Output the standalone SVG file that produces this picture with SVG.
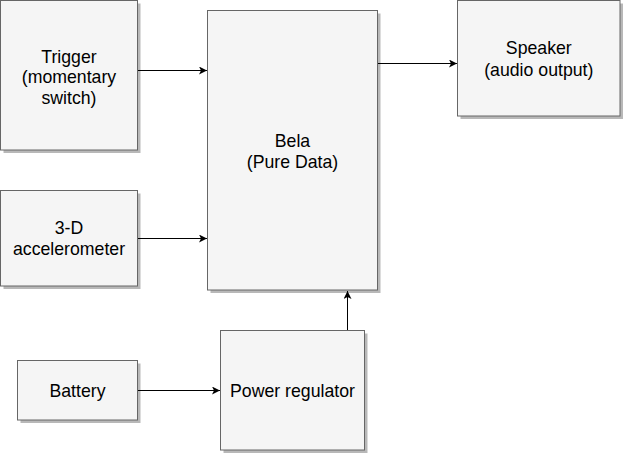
<svg xmlns="http://www.w3.org/2000/svg" width="623" height="454" viewBox="0 0 623 454">
<style>
.box{fill:#f5f5f5;stroke:#666666;stroke-width:1}
.sh{fill:#000;opacity:0.28}
.t{font-family:"Liberation Sans",Arial,sans-serif;font-size:17.7px;fill:#000;text-anchor:middle}
.c{stroke:#000;stroke-width:1;fill:none}
</style>
<defs>
<marker id="ar" markerUnits="userSpaceOnUse" markerWidth="10" markerHeight="10" refX="8" refY="4" orient="auto">
<path d="M0,0 L8,4 L0,8 L2,4 Z" fill="#000"/>
</marker>
</defs>
<rect width="623" height="454" fill="#fff"/>
<g id="connectors">
<line class="c" x1="137.5" y1="70.5" x2="207" y2="70.5" marker-end="url(#ar)"/>
<line class="c" x1="137.5" y1="238.5" x2="207" y2="238.5" marker-end="url(#ar)"/>
<line class="c" x1="377.5" y1="63.5" x2="457" y2="63.5" marker-end="url(#ar)"/>
<line class="c" x1="137.5" y1="390.5" x2="220" y2="390.5" marker-end="url(#ar)"/>
<line class="c" x1="347.5" y1="330.5" x2="347.5" y2="291" marker-end="url(#ar)"/>
</g>
<g id="trigger">
<rect class="sh" x="3.5" y="3.5" width="137" height="149.5"/>
<rect class="box" x="0.5" y="0.5" width="137" height="149.5"/>
<text class="t" x="69" y="62.7">Trigger</text>
<text class="t" x="69" y="83.3">(momentary</text>
<text class="t" x="69" y="103.8">switch)</text>
</g>
<g id="accelerometer">
<rect class="sh" x="3.5" y="193.5" width="137" height="95.5"/>
<rect class="box" x="0.5" y="190.5" width="137" height="95.5"/>
<text class="t" x="69" y="233.5">3-D</text>
<text class="t" x="69" y="255">accelerometer</text>
</g>
<g id="bela">
<rect class="sh" x="210.5" y="13.5" width="170" height="279.5"/>
<rect class="box" x="207.5" y="10.5" width="170" height="279.5"/>
<text class="t" x="292.5" y="146.7">Bela</text>
<text class="t" x="292.5" y="168">(Pure Data)</text>
</g>
<g id="speaker">
<rect class="sh" x="460.5" y="3.5" width="162.5" height="115.5"/>
<rect class="box" x="457.5" y="0.5" width="162.5" height="115.5"/>
<text class="t" x="538.8" y="54.3">Speaker</text>
<text class="t" x="538.8" y="76">(audio output)</text>
</g>
<g id="battery">
<rect class="sh" x="20.5" y="363.5" width="120" height="59.5"/>
<rect class="box" x="17.5" y="360.5" width="120" height="59.5"/>
<text class="t" x="77.5" y="396.5">Battery</text>
</g>
<g id="power-regulator">
<rect class="sh" x="223.5" y="333.5" width="144" height="119.5"/>
<rect class="box" x="220.5" y="330.5" width="144" height="119.5"/>
<text class="t" x="292.5" y="396.7">Power regulator</text>
</g>
</svg>
